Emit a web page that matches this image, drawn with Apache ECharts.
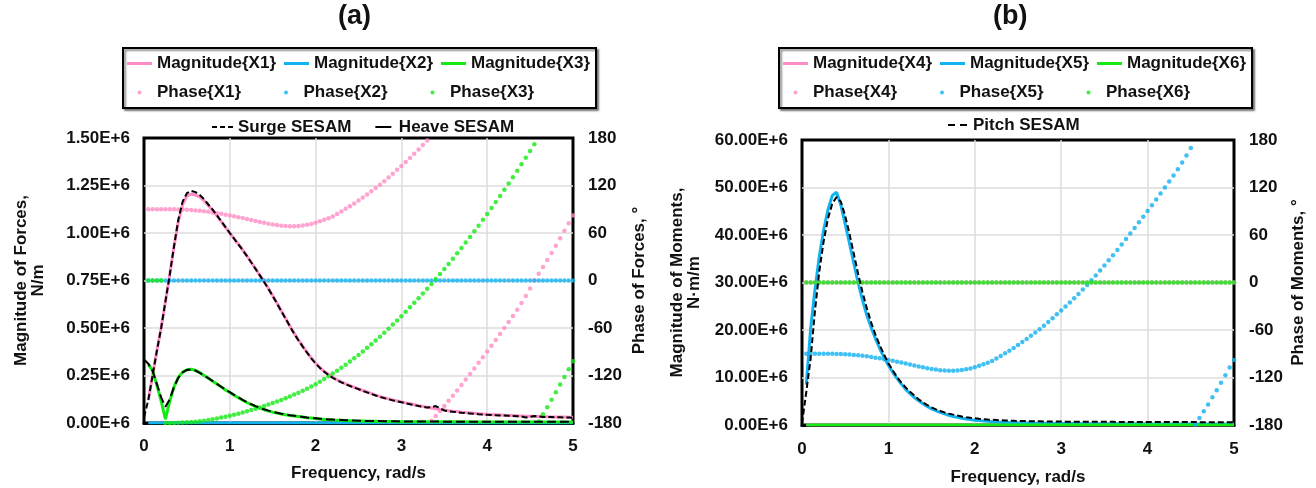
<!DOCTYPE html>
<html>
<head>
<meta charset="utf-8">
<script src="https://cdn.jsdelivr.net/npm/echarts@6/dist/echarts.min.js"></script>
<style>
  html, body { margin: 0; padding: 0; background: #ffffff; }
  #chart { width: 1316px; height: 488px; }
</style>
</head>
<body>
<div id="chart"></div>
<script>
// Frequency samples of the computed transfer functions (rad/s)
const freq = [
  0.05,0.1,0.15,0.2,0.25,0.3,0.35,0.4,0.45,0.5,
  0.55,0.6,0.65,0.7,0.75,0.8,0.85,0.9,0.95,1,
  1.05,1.1,1.15,1.2,1.25,1.3,1.35,1.4,1.45,1.5,
  1.55,1.6,1.65,1.7,1.75,1.8,1.85,1.9,1.95,2,
  2.05,2.1,2.15,2.2,2.25,2.3,2.35,2.4,2.45,2.5,
  2.55,2.6,2.65,2.7,2.75,2.8,2.85,2.9,2.95,3,
  3.05,3.1,3.15,3.2,3.25,3.3,3.35,3.4,3.45,3.5,
  3.55,3.6,3.65,3.7,3.75,3.8,3.85,3.9,3.95,4,
  4.05,4.1,4.15,4.2,4.25,4.3,4.35,4.4,4.45,4.5,
  4.55,4.6,4.65,4.7,4.75,4.8,4.85,4.9,4.95,5
];
// SESAM reference curves include the zero-frequency point
const sesamFreq = [0].concat(freq);

// Tick values of the axes
const freqTicks = { min: 0, max: 5, step: 1 };
const forceTicks = { min: 0, max: 1.5, step: 0.25 };     // x 1E+6 N/m
const momentTicks = { min: 0, max: 60, step: 10 };       // x 1E+6 N·m/m
const phaseTicks = { min: -180, max: 180, step: 60 };    // degrees

// ---- (a) forces, magnitudes in 1E+6 N/m ----
const magX1 = [
  0.12,0.25,0.38,0.5,0.64,0.78,0.93,1.06,1.15,1.195,
  1.205,1.2,1.19,1.17,1.145,1.12,1.09,1.06,1.03,1,
  0.97,0.941,0.911,0.879,0.846,0.812,0.778,0.744,0.708,0.67,
  0.631,0.591,0.551,0.511,0.472,0.437,0.404,0.372,0.342,0.315,
  0.292,0.272,0.255,0.24,0.227,0.216,0.206,0.197,0.188,0.18,
  0.171,0.163,0.155,0.147,0.139,0.133,0.127,0.121,0.116,0.111,
  0.106,0.101,0.096,0.091,0.087,0.083,0.079,0.075,0.071,0.068,
  0.065,0.062,0.06,0.057,0.055,0.053,0.051,0.049,0.047,0.046,
  0.044,0.043,0.042,0.041,0.04,0.039,0.038,0.037,0.036,0.035,
  0.034,0.034,0.033,0.033,0.032,0.032,0.031,0.031,0.03,0.03
];
const magX2 = [
  0,0,0,0,0,0,0,0,0,0, 0,0,0,0,0,0,0,0,0,0,
  0,0,0,0,0,0,0,0,0,0, 0,0,0,0,0,0,0,0,0,0,
  0,0,0,0,0,0,0,0,0,0, 0,0,0,0,0,0,0,0,0,0,
  0,0,0,0,0,0,0,0,0,0, 0,0,0,0,0,0,0,0,0,0,
  0,0,0,0,0,0,0,0,0,0, 0,0,0,0,0,0,0,0,0,0
];
const magX3 = [
  0.31,0.275,0.2,0.115,0.02,0.115,0.19,0.24,0.268,0.28,
  0.283,0.277,0.265,0.25,0.235,0.22,0.205,0.19,0.174,0.16,
  0.146,0.133,0.12,0.108,0.097,0.087,0.078,0.07,0.063,0.057,
  0.052,0.047,0.043,0.04,0.037,0.034,0.031,0.028,0.026,0.024,
  0.021,0.019,0.018,0.016,0.015,0.014,0.013,0.012,0.011,0.01,
  0.01,0.009,0.009,0.009,0.008,0.008,0.008,0.008,0.007,0.007,
  0.007,0.007,0.007,0.007,0.007,0.006,0.006,0.006,0.006,0.006,
  0.006,0.006,0.006,0.006,0.006,0.005,0.005,0.005,0.005,0.005,
  0.005,0.005,0.005,0.005,0.005,0.005,0.005,0.005,0.005,0.005,
  0.005,0.005,0.005,0.005,0.005,0.005,0.005,0.005,0.005,0.005
];
// phases in degrees
const phaseX1 = [
  90,90,90,90,90,90,89.9,89.8,89.6,89.3,
  89,88.5,88,87.4,86.7,86,85.1,84.2,83.2,82.2,
  81.1,80,78.8,77.6,76.4,75.2,74,72.9,71.8,70.8,
  70,69.3,68.8,68.5,68.5,68.8,69.4,70.3,71.5,73,
  74.7,76.6,78.7,81,84,87.2,90.5,93.9,97.4,101,
  104.8,108.7,112.7,116.8,121,125.5,130.2,135,139.8,144.6,
  149.6,154.8,160.1,165.6,171.2,177,-177,-171,-164.8,-158.5,
  -152,-145.5,-138.8,-132,-125,-118,-111,-104,-96.8,-89.6,
  -82.3,-75,-67.6,-60.1,-52.5,-44.8,-37,-28.5,-19.5,-10,
  0,8.5,17,25.8,34.8,44,53.3,62.8,72.4,82
];
const phaseX2 = [
  0,0,0,0,0,0,0,0,0,0, 0,0,0,0,0,0,0,0,0,0,
  0,0,0,0,0,0,0,0,0,0, 0,0,0,0,0,0,0,0,0,0,
  0,0,0,0,0,0,0,0,0,0, 0,0,0,0,0,0,0,0,0,0,
  0,0,0,0,0,0,0,0,0,0, 0,0,0,0,0,0,0,0,0,0,
  0,0,0,0,0,0,0,0,0,0, 0,0,0,0,0,0,0,0,0,0
];
const phaseX3 = [
  0,0,0,0,-180,-180,-180,-179.8,-179.5,-179.2,
  -178.8,-178.3,-177.7,-177,-176.2,-175.3,-174.3,-173.2,-172,-170.8,
  -169.5,-168.2,-166.8,-165.3,-163.7,-162,-160.3,-158.5,-156.7,-154.8,
  -152.8,-150.8,-148.6,-146.4,-144.1,-141.7,-139.2,-136.7,-134,-131,
  -127.8,-124.5,-121.1,-117.6,-114,-110.2,-106.3,-102.3,-98.2,-94,
  -89.6,-85.1,-80.5,-75.8,-71,-66,-60.9,-55.7,-50.4,-45,
  -39.5,-33.9,-28.2,-22.4,-16.5,-10.5,-4.4,1.8,8.1,14.5,
  21,27.6,34.3,41.1,48,55,62.1,69.3,76.6,84,
  91.5,99.1,106.8,114.6,122.5,130.5,138.6,146.8,155.1,163.5,
  172,-178,-169,-160,-150.5,-141,-131.5,-122,-112,-102
];
const surgeSesam = [
  0.03,
  0.12,0.25,0.38,0.5,0.64,0.78,0.93,1.07,1.165,1.21,
  1.222,1.215,1.2,1.178,1.15,1.123,1.093,1.062,1.031,1,
  0.97,0.94,0.91,0.878,0.845,0.811,0.777,0.742,0.706,0.668,
  0.629,0.589,0.549,0.509,0.47,0.435,0.402,0.37,0.34,0.313,
  0.29,0.27,0.253,0.238,0.225,0.214,0.204,0.195,0.186,0.178,
  0.169,0.161,0.153,0.145,0.137,0.131,0.125,0.119,0.114,0.109,
  0.104,0.099,0.094,0.089,0.085,0.081,0.083,0.089,0.077,0.066,
  0.062,0.059,0.057,0.054,0.052,0.05,0.048,0.046,0.045,0.043,
  0.042,0.041,0.04,0.039,0.038,0.037,0.036,0.034,0.029,0.033,
  0.037,0.034,0.032,0.031,0.031,0.03,0.03,0.029,0.029,0.028
];
const heaveSesam = [
  0.335,
  0.312,0.275,0.205,0.135,0.085,0.125,0.19,0.238,0.266,0.279,
  0.282,0.276,0.264,0.25,0.236,0.221,0.206,0.191,0.176,0.162,
  0.148,0.135,0.122,0.11,0.099,0.089,0.08,0.072,0.065,0.059,
  0.054,0.049,0.045,0.041,0.038,0.035,0.032,0.029,0.027,0.025,
  0.023,0.021,0.019,0.018,0.017,0.016,0.015,0.014,0.013,0.012,
  0.011,0.011,0.01,0.01,0.01,0.009,0.009,0.009,0.009,0.008,
  0.008,0.008,0.008,0.008,0.008,0.008,0.008,0.008,0.007,0.007,
  0.007,0.007,0.007,0.007,0.007,0.007,0.007,0.007,0.007,0.007,
  0.006,0.006,0.006,0.006,0.006,0.006,0.006,0.006,0.006,0.006,
  0.006,0.006,0.006,0.006,0.006,0.006,0.006,0.006,0.006,0.006
];

// ---- (b) moments, magnitudes in 1E+6 N·m/m ----
const magX4 = [
  0,0,0,0,0,0,0,0,0,0, 0,0,0,0,0,0,0,0,0,0,
  0,0,0,0,0,0,0,0,0,0, 0,0,0,0,0,0,0,0,0,0,
  0,0,0,0,0,0,0,0,0,0, 0,0,0,0,0,0,0,0,0,0,
  0,0,0,0,0,0,0,0,0,0, 0,0,0,0,0,0,0,0,0,0,
  0,0,0,0,0,0,0,0,0,0, 0,0,0,0,0,0,0,0,0,0
];
const magX5 = [
  8.5,20.3,28.5,35.5,41,45.3,48.3,49,46.3,42.3,
  38.2,34,29.9,26.3,23.1,20.5,18.2,16.1,14.2,12.6,
  11.1,9.8,8.6,7.5,6.6,5.8,5.1,4.5,3.9,3.4,
  3,2.65,2.35,2.05,1.8,1.6,1.42,1.27,1.13,1,
  0.92,0.84,0.77,0.7,0.65,0.6,0.56,0.52,0.49,0.46,
  0.44,0.42,0.4,0.38,0.36,0.35,0.34,0.33,0.32,0.31,
  0.3,0.3,0.29,0.29,0.28,0.28,0.27,0.27,0.27,0.26,
  0.26,0.26,0.25,0.25,0.25,0.25,0.24,0.24,0.24,0.24,
  0.23,0.23,0.23,0.23,0.23,0.22,0.22,0.22,0.22,0.22,
  0.22,0.21,0.21,0.21,0.21,0.21,0.2,0.2,0.2,0.2
];
const magX6 = [
  0,0,0,0,0,0,0,0,0,0, 0,0,0,0,0,0,0,0,0,0,
  0,0,0,0,0,0,0,0,0,0, 0,0,0,0,0,0,0,0,0,0,
  0,0,0,0,0,0,0,0,0,0, 0,0,0,0,0,0,0,0,0,0,
  0,0,0,0,0,0,0,0,0,0, 0,0,0,0,0,0,0,0,0,0,
  0,0,0,0,0,0,0,0,0,0, 0,0,0,0,0,0,0,0,0,0
];
const phaseX4 = [
  0,0,0,0,0,0,0,0,0,0, 0,0,0,0,0,0,0,0,0,0,
  0,0,0,0,0,0,0,0,0,0, 0,0,0,0,0,0,0,0,0,0,
  0,0,0,0,0,0,0,0,0,0, 0,0,0,0,0,0,0,0,0,0,
  0,0,0,0,0,0,0,0,0,0, 0,0,0,0,0,0,0,0,0,0,
  0,0,0,0,0,0,0,0,0,0, 0,0,0,0,0,0,0,0,0,0
];
const phaseX5 = [
  -90,-90,-90,-90,-90,-90,-90.1,-90.2,-90.4,-90.7,
  -91,-91.5,-92,-92.6,-93.3,-94,-94.9,-95.8,-96.8,-97.8,
  -98.9,-100,-101.2,-102.4,-103.6,-104.8,-106,-107.1,-108.2,-109.2,
  -110,-110.7,-111.2,-111.5,-111.5,-111.2,-110.6,-109.7,-108.5,-107,
  -105.3,-103.4,-101.3,-99,-96,-92.8,-89.5,-86.1,-82.6,-79,
  -75.2,-71.3,-67.3,-63.2,-59,-54.5,-49.8,-45,-40.2,-35.4,
  -30.4,-25.2,-19.9,-14.4,-8.8,-3,3,9,15.2,21.5,
  28,34.5,41.2,48,55,62,69,76,83.2,90.4,
  97.7,105,112.4,119.9,127.5,135.2,143,151.5,160.5,170,
  -179.5,-171,-162.5,-154,-145,-136,-126.5,-117,-107.5,-98
];
const phaseX6 = [
  0,0,0,0,0,0,0,0,0,0, 0,0,0,0,0,0,0,0,0,0,
  0,0,0,0,0,0,0,0,0,0, 0,0,0,0,0,0,0,0,0,0,
  0,0,0,0,0,0,0,0,0,0, 0,0,0,0,0,0,0,0,0,0,
  0,0,0,0,0,0,0,0,0,0, 0,0,0,0,0,0,0,0,0,0,
  0,0,0,0,0,0,0,0,0,0, 0,0,0,0,0,0,0,0,0,0
];
const pitchSesam = [
  0.3,
  7,14,24,32.3,38.6,43.4,46.6,48,47,44,
  40.2,36,31.8,28,24.6,21.6,19,16.8,14.8,13,
  11.5,10.1,8.9,7.9,7,6.2,5.4,4.75,4.2,3.7,
  3.3,2.95,2.65,2.4,2.18,1.98,1.8,1.65,1.52,1.4,
  1.3,1.22,1.15,1.09,1.04,0.99,0.95,0.92,0.89,0.86,
  0.84,0.82,0.8,0.78,0.77,0.76,0.75,0.74,0.73,0.72,
  0.71,0.7,0.7,0.69,0.69,0.68,0.68,0.67,0.67,0.66,
  0.66,0.66,0.65,0.65,0.65,0.64,0.64,0.64,0.63,0.63,
  0.63,0.63,0.62,0.62,0.62,0.62,0.61,0.61,0.61,0.61,
  0.61,0.6,0.6,0.6,0.6,0.6,0.6,0.59,0.59,0.59
];

// ---------- styling ----------
const FONT = '"Liberation Sans", Arial, sans-serif';
const INK = '#111111';
const PINK = '#ff8cc6';
const BLUE = '#12b2f0';
const GREEN = '#14ea14';
const GRIDLINE = '#dcdcdc';
const boldText = { fontFamily: FONT, fontWeight: 'bold', fontSize: 17, color: INK };

const pairs = (xs, ys) => xs.map((x, i) => [x, ys[i]]);
const eFmt = v => v.toFixed(2) + 'E+6';

function magLine(name, ys, color, xi, yi) {
  return {
    name, type: 'line', xAxisIndex: xi, yAxisIndex: yi,
    data: pairs(freq, ys), symbol: 'none', showSymbol: false,
    lineStyle: { color, width: 3 }, itemStyle: { color }, z: 2
  };
}
function phaseDots(name, ys, color, xi, yi) {
  return {
    name, type: 'scatter', xAxisIndex: xi, yAxisIndex: yi,
    data: pairs(freq, ys), symbol: 'circle', symbolSize: 4.5,
    itemStyle: { color }, z: 3
  };
}
function sesamLine(name, ys, dash, xi, yi) {
  return {
    name, type: 'line', xAxisIndex: xi, yAxisIndex: yi,
    data: pairs(sesamFreq, ys), symbol: 'none', showSymbol: false,
    lineStyle: { color: '#000', width: 2, type: dash }, itemStyle: { color: '#000' }, z: 4
  };
}

function xAxisOf(gridIndex, margin, gap) {
  return {
    gridIndex, type: 'value', min: freqTicks.min, max: freqTicks.max, interval: freqTicks.step,
    offset: 2,
    axisLine: { show: true, lineStyle: { color: '#000', width: 3 } },
    axisTick: { show: false },
    axisLabel: Object.assign({ margin }, boldText),
    splitLine: { show: true, showMinLine: false, showMaxLine: false, lineStyle: { color: GRIDLINE, width: 1.5 } },
    name: 'Frequency, rad/s', nameLocation: 'middle', nameGap: gap,
    nameTextStyle: boldText
  };
}
function magAxisOf(gridIndex, ticks, name, gap) {
  return {
    gridIndex, type: 'value', position: 'left',
    min: ticks.min, max: ticks.max, interval: ticks.step,
    axisLine: { show: false }, axisTick: { show: false },
    axisLabel: Object.assign({ margin: 14, formatter: eFmt }, boldText),
    splitLine: { show: true, showMinLine: false, showMaxLine: false, lineStyle: { color: GRIDLINE, width: 1.5 } },
    name, nameLocation: 'middle', nameRotate: 90, nameGap: gap,
    nameTextStyle: Object.assign({ lineHeight: 17, align: 'center' }, boldText)
  };
}
function phaseAxisOf(gridIndex, name, gap) {
  return {
    gridIndex, type: 'value', position: 'right',
    min: phaseTicks.min, max: phaseTicks.max, interval: phaseTicks.step,
    axisLine: { show: false }, axisTick: { show: false },
    axisLabel: Object.assign({ margin: 15 }, boldText),
    splitLine: { show: false },
    name, nameLocation: 'middle', nameRotate: 90, nameGap: gap,
    nameTextStyle: boldText
  };
}

const barIcon = 'path://M0,0h25v3h-25z';
function boxLegend(left, names) {
  return {
    left, top: 48, width: 480, orient: 'horizontal',
    padding: 4, itemWidth: 25, itemHeight: 4, itemGap: 6,
    backgroundColor: '#ffffff', borderColor: '#000', borderWidth: 2,
    shadowColor: 'rgba(0,0,0,0.45)', shadowBlur: 2, shadowOffsetX: 2, shadowOffsetY: 2,
    selectedMode: false,
    itemStyle: { borderWidth: 0 },
    textStyle: Object.assign({ width: 121, lineHeight: 23, overflow: 'none' }, boldText),
    data: names.map((n, i) => ({ name: n, icon: i < 3 ? barIcon : 'circle' }))
  };
}

const chart = echarts.init(document.getElementById('chart'), null, { renderer: 'canvas' });
chart.setOption({
  animation: false,
  backgroundColor: '#ffffff',
  title: [
    { text: '(a)', left: 338, top: 3, padding: 0, textStyle: { fontFamily: FONT, fontWeight: 'bold', fontSize: 27, color: INK } },
    { text: '(b)', left: 993, top: 3, padding: 0, textStyle: { fontFamily: FONT, fontWeight: 'bold', fontSize: 27, color: INK } }
  ],
  legend: [
    boxLegend(123, ['Magnitude{X1}', 'Magnitude{X2}', 'Magnitude{X3}', 'Phase{X1}', 'Phase{X2}', 'Phase{X3}']),
    boxLegend(779, ['Magnitude{X4}', 'Magnitude{X5}', 'Magnitude{X6}', 'Phase{X4}', 'Phase{X5}', 'Phase{X6}']),
    {
      left: 212, top: 117, padding: 0, itemWidth: 21, itemHeight: 2, itemGap: 24,
      selectedMode: false, itemStyle: { borderWidth: 0 },
      textStyle: Object.assign({ lineHeight: 20 }, boldText),
      data: [
        { name: 'Surge SESAM', icon: 'path://M0,0h5v2h-5zM8,0h5v2h-5zM16,0h5v2h-5z' },
        { name: 'Heave SESAM', icon: 'path://M0,0h16v2h-16z' }
      ]
    },
    {
      left: 948, top: 115, padding: 0, itemWidth: 21, itemHeight: 2,
      selectedMode: false, itemStyle: { borderWidth: 0 },
      textStyle: Object.assign({ lineHeight: 20 }, boldText),
      data: [{ name: 'Pitch SESAM', icon: 'path://M0,0h7v2h-7zM12,0h7v2h-7z' }]
    }
  ],
  grid: [
    { left: 144, top: 138, width: 429, height: 285, show: true, borderColor: '#000', borderWidth: 3, backgroundColor: 'transparent', outerBoundsMode: 'none' },
    { left: 802, top: 140, width: 432, height: 285, show: true, borderColor: '#000', borderWidth: 3, backgroundColor: 'transparent', outerBoundsMode: 'none' }
  ],
  xAxis: [xAxisOf(0, 13, 40), xAxisOf(1, 14, 42)],
  yAxis: [
    magAxisOf(0, forceTicks, 'Magnitude of Forces,\nN/m', 97),
    phaseAxisOf(0, 'Phase of Forces, °', 58),
    magAxisOf(1, momentTicks, 'Magnitude of Moments,\nN·m/m', 99),
    phaseAxisOf(1, 'Phase of Moments, °', 56)
  ],
  series: [
    // (a)
    magLine('Magnitude{X2}', magX2, BLUE, 0, 0),
    magLine('Magnitude{X1}', magX1, PINK, 0, 0),
    magLine('Magnitude{X3}', magX3, GREEN, 0, 0),
    phaseDots('Phase{X1}', phaseX1, PINK, 0, 1),
    phaseDots('Phase{X2}', phaseX2, BLUE, 0, 1),
    phaseDots('Phase{X3}', phaseX3, GREEN, 0, 1),
    sesamLine('Surge SESAM', surgeSesam, [6, 3], 0, 0),
    sesamLine('Heave SESAM', heaveSesam, [9, 4], 0, 0),
    // (b)
    magLine('Magnitude{X4}', magX4, PINK, 1, 2),
    magLine('Magnitude{X5}', magX5, BLUE, 1, 2),
    magLine('Magnitude{X6}', magX6, GREEN, 1, 2),
    phaseDots('Phase{X4}', phaseX4, PINK, 1, 3),
    phaseDots('Phase{X5}', phaseX5, BLUE, 1, 3),
    phaseDots('Phase{X6}', phaseX6, GREEN, 1, 3),
    sesamLine('Pitch SESAM', pitchSesam, [6, 3], 1, 2)
  ]
});
</script>
</body>
</html>
